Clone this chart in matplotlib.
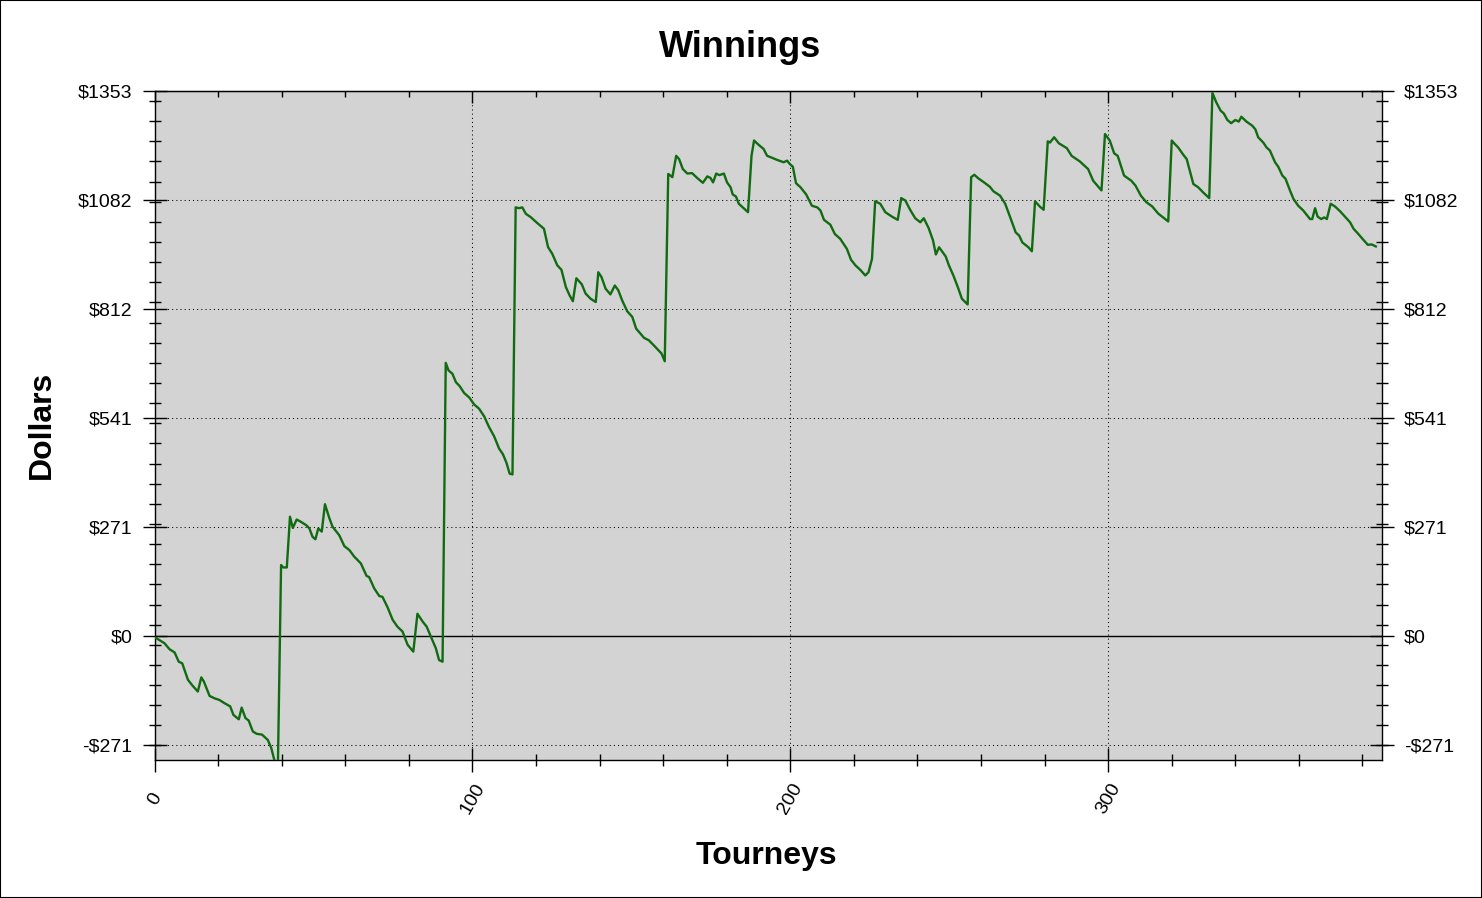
"""
Winnings chart: cumulative dollars per tourney, grey plot area,
dotted grid on the major ticks, labels mirrored on the right.
"""

import matplotlib

matplotlib.use("Agg")
import matplotlib.pyplot as plt
from matplotlib.patches import Rectangle
from matplotlib.ticker import FixedLocator, MultipleLocator

plt.rcParams["font.family"] = ["Liberation Sans", "DejaVu Sans"]

# ---- Data (tourney index, cumulative dollars) ----
TOURNEYS = [
    0, 3.1, 4.7, 6.3, 7.6, 8.7, 10.5, 12, 13.6, 14.7, 15.5, 17.3, 18.9, 20.4,
    22, 23.8, 24.8, 26.5, 27.4, 28.6, 29.6, 30.9, 32.1, 33.8, 35.6, 36.7,
    37.8, 38.8, 39.8, 40.5, 41.6, 42.6, 43.5, 44.7, 46.1, 47.7, 48.7, 49.7,
    50.6, 51.5, 52.6, 53.6, 55, 56, 58.1, 59.7, 61.3, 62.8, 64.9, 66.7, 67.5,
    69.1, 70.7, 71.7, 73.3, 74.9, 76.4, 78, 79.6, 81.4, 82.7, 84.3, 85.6,
    87.5, 88.5, 89.5, 90.6, 91.6, 92.5, 93.7, 94.8, 96, 97.4, 99, 100.5,
    102.1, 103.7, 105.2, 106.8, 108.4, 109.6, 110.7, 111.7, 112.6, 113.6,
    114.7, 115.7, 116.8, 118.3, 120.4, 122.5, 123.8, 125.1, 126.7, 128,
    129.4, 130.6, 131.6, 132.7, 134.4, 135.6, 137.2, 138.8, 139.6, 140.6,
    141.9, 143.4, 144.8, 145.9, 147.1, 148.7, 150.3, 151.5, 154, 155.5,
    157.6, 159.5, 160.5, 161.6, 162.9, 164.1, 165, 166.2, 167.6, 169.1,
    170.7, 172.5, 173.9, 174.9, 175.7, 176.7, 177.7, 179.1, 180.1, 181.2,
    181.9, 182.9, 183.8, 186.7, 187.8, 188.6, 189.8, 191.6, 192.7, 194.3,
    195.8, 197.9, 199, 199.8, 200.8, 201.8, 203.2, 205, 206.8, 208.5, 209.5,
    210.6, 212.6, 214, 215.7, 217.8, 219.1, 220.5, 222, 223.6, 224.6, 225.7,
    226.7, 228.3, 229.9, 232, 233.8, 234.9, 236.2, 237.7, 239.3, 240.9, 242,
    243.5, 244.9, 245.8, 246.8, 248.9, 249.9, 251.3, 252.7, 254, 255.8,
    256.9, 257.9, 259, 261.3, 262.8, 263.9, 266, 267.6, 269.2, 270.9, 272,
    273, 274.9, 276, 277, 278.5, 279.7, 281, 281.7, 283, 284.5, 287, 288.5,
    291.1, 293.7, 295.3, 297.9, 299, 300.5, 301.9, 303, 305, 307.3, 308.6,
    310.3, 312, 313.9, 315.7, 318.9, 320, 321, 322, 323.6, 324.7, 326.8,
    328.3, 329.9, 331.8, 332.8, 334, 335.4, 336.4, 337.5, 338.7, 340, 341.1,
    341.9, 343.5, 345.3, 346.3, 347.2, 348.8, 349.8, 350.9, 352.5, 353.5,
    354.8, 355.8, 357.2, 358.3, 359.8, 361.4, 362.4, 363.5, 364.2, 365.1,
    365.9, 367, 368, 368.8, 370, 371.4, 373, 374.5, 376.1, 377.2, 378.7,
    380, 381.7, 382.9, 384.2,
]
WINNINGS = [
    -3, -18, -33, -41, -64, -68, -109, -124, -138, -103, -113, -149, -155,
    -159, -167, -175, -196, -207, -178, -204, -210, -237, -243, -245, -258,
    -278, -312, -322, 176, 170, 170, 296, 268, 289, 283, 275, 267, 246, 240,
    267, 259, 327, 292, 271, 250, 223, 213, 197, 180, 149, 146, 118, 99, 97,
    71, 40, 23, 11, -22, -39, 55, 36, 23, -12, -31, -60, -64, 678, 659, 651,
    630, 620, 603, 592, 575, 564, 545, 519, 496, 465, 451, 430, 403, 401,
    1064, 1062, 1064, 1048, 1040, 1025, 1011, 965, 949, 920, 909, 866, 845,
    831, 888, 873, 850, 837, 829, 903, 891, 862, 848, 870, 858, 833, 806,
    792, 763, 740, 734, 717, 701, 682, 1147, 1139, 1192, 1184, 1159, 1148,
    1149, 1137, 1125, 1141, 1137, 1126, 1148, 1144, 1148, 1126, 1114, 1096,
    1091, 1073, 1052, 1192, 1230, 1221, 1209, 1192, 1187, 1182, 1176, 1180,
    1172, 1165, 1124, 1114, 1096, 1068, 1064, 1056, 1033, 1021, 998, 986,
    961, 934, 920, 909, 895, 903, 936, 1079, 1073, 1052, 1041, 1033, 1087,
    1081, 1058, 1037, 1027, 1037, 1013, 982, 947, 965, 942, 920, 895, 866,
    837, 823, 1139, 1145, 1137, 1124, 1115, 1104, 1093, 1073, 1039, 1002,
    994, 977, 965, 955, 1079, 1066, 1058, 1228, 1225, 1238, 1223, 1211,
    1192, 1178, 1159, 1130, 1106, 1246, 1230, 1198, 1192, 1143, 1130, 1118,
    1093, 1077, 1066, 1049, 1029, 1230, 1221, 1213, 1195, 1184, 1122, 1114,
    1101, 1087, 1348, 1325, 1304, 1297, 1281, 1273, 1281, 1277, 1289, 1277,
    1267, 1258, 1238, 1225, 1213, 1205, 1176, 1165, 1143, 1135, 1106, 1085,
    1068, 1056, 1046, 1035, 1035, 1062, 1041, 1035, 1039, 1035, 1073, 1066,
    1054, 1041, 1027, 1011, 998, 986, 971, 972, 967,
]

Y_TICKS = [-271, 0, 271, 541, 812, 1082, 1353]
Y_LABELS = ["-$271", "$0", "$271", "$541", "$812", "$1082", "$1353"]
Y_MINOR = [-272, -222, -172, -122, -72, -22, 28, 78, 128, 178, 228, 278,
           328, 378, 428, 478, 528, 578, 628, 678, 728, 778, 828, 878, 928,
           978, 1028, 1078, 1128, 1178, 1228, 1278, 1328]
X_TICKS = [0, 100, 200, 300]
X_LABELS = ["0", "100", "200", "300"]

X_LIM = (0, 386)
Y_LIM = (-308, 1353)

LINE_COLOR = "#116b11"
BG_COLOR = "#d3d3d3"


def main():
    fig = plt.figure(figsize=(14.82, 8.98), dpi=100)
    ax = fig.add_axes([0.1043, 0.1537, 0.8279, 0.745])
    ax.set_facecolor(BG_COLOR)

    ax.plot(TOURNEYS, WINNINGS, color=LINE_COLOR, linewidth=1.7, zorder=3)
    ax.axhline(0, color="black", linewidth=1.0, zorder=2)

    ax.set_xlim(*X_LIM)
    ax.set_ylim(*Y_LIM)

    # y: major + minor ticks, mirrored labels on the right
    ax.set_yticks(Y_TICKS)
    ax.set_yticklabels(Y_LABELS)
    ax.yaxis.set_minor_locator(FixedLocator(Y_MINOR))
    ax.tick_params(axis="y", which="major", direction="inout", length=17,
                   width=1, pad=7.5, labelsize=14, left=True, right=True,
                   labelleft=True, labelright=True)
    ax.tick_params(axis="y", which="minor", direction="inout", length=8.5,
                   width=1, left=True, right=True)

    # x: bottom ticks cross the spine, top ones point inward (secondary axis)
    ax.set_xticks(X_TICKS)
    ax.set_xticklabels(X_LABELS, rotation=60, rotation_mode="anchor",
                       ha="center", va="center")
    ax.xaxis.set_minor_locator(MultipleLocator(20))
    ax.tick_params(axis="x", which="major", direction="inout", length=17,
                   width=1, pad=19.5, labelsize=14, top=False)
    ax.tick_params(axis="x", which="minor", direction="inout", length=8.5,
                   width=1, top=False)

    top = ax.secondary_xaxis("top")
    top.set_xticks(X_TICKS)
    top.xaxis.set_minor_locator(MultipleLocator(20))
    top.tick_params(which="major", direction="in", length=8.5, width=1,
                    labeltop=False)
    top.tick_params(which="minor", direction="in", length=4.3, width=1)

    ax.grid(which="major", color="black", linestyle=(0, (1, 3)),
            linewidth=0.75)

    for side in ax.spines.values():
        side.set_linewidth(1.0)

    fig.text(0.4993, 0.947, "Winnings", ha="center", va="center",
             fontsize=26, fontweight="bold")
    fig.text(0.0283, 0.5267, "Dollars", ha="center", va="center",
             rotation=90, fontsize=23, fontweight="bold")
    fig.text(0.5175, 0.047, "Tourneys", ha="center", va="center",
             fontsize=23, fontweight="bold")

    # thin black frame around the whole picture
    fig.add_artist(Rectangle((0, 0), 1, 1, transform=fig.transFigure,
                             fill=False, edgecolor="black", linewidth=1.5))

    fig.savefig("out.png", dpi=100)
    plt.close(fig)


if __name__ == "__main__":
    main()
